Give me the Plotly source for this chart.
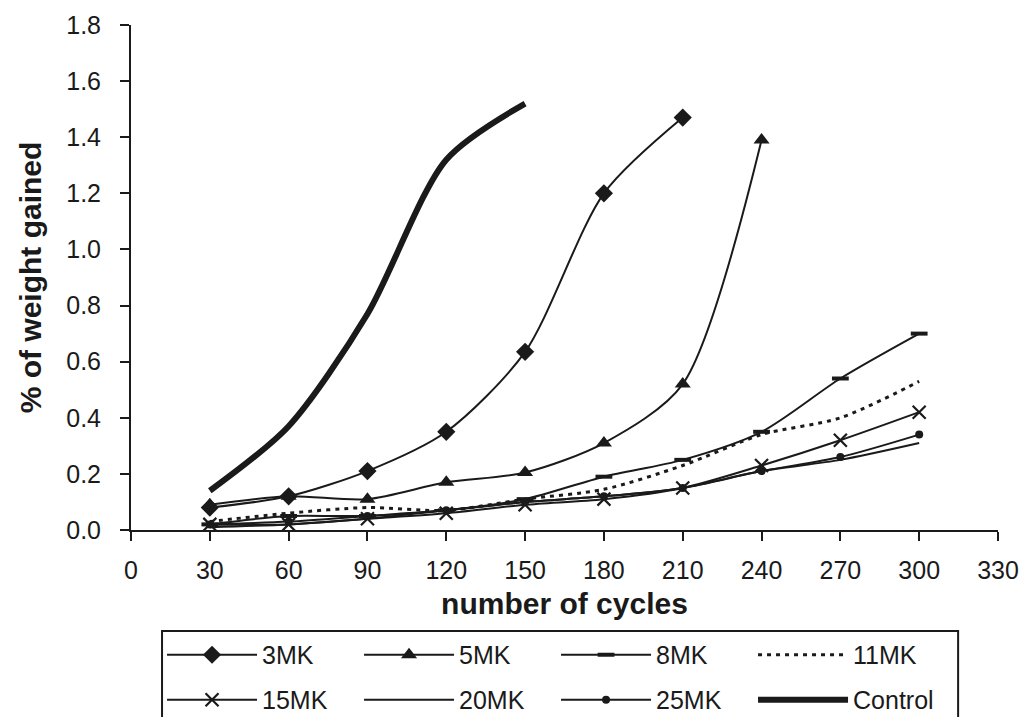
import plotly.graph_objects as go

cycles = [30, 60, 90, 120, 150, 180, 210, 240, 270, 300]

mk3 = [0.08, 0.12, 0.21, 0.35, 0.635, 1.20, 1.47]
mk5 = [0.09, 0.12, 0.11, 0.17, 0.205, 0.31, 0.52, 1.39]
mk8 = [0.02, 0.05, 0.05, 0.07, 0.11, 0.19, 0.25, 0.35, 0.54, 0.70]
mk11 = [0.03, 0.06, 0.08, 0.07, 0.11, 0.145, 0.23, 0.34, 0.40, 0.53]
mk15 = [0.02, 0.02, 0.04, 0.06, 0.09, 0.11, 0.15, 0.23, 0.32, 0.42]
mk20 = [0.01, 0.02, 0.04, 0.07, 0.10, 0.12, 0.15, 0.21, 0.25, 0.31]
mk25 = [0.02, 0.03, 0.05, 0.07, 0.10, 0.12, 0.15, 0.21, 0.26, 0.34]
control = [0.14, 0.37, 0.77, 1.32, 1.52]

x_ticks = list(range(0, 331, 30))
y_ticks = [0.0, 0.2, 0.4, 0.6, 0.8, 1.0, 1.2, 1.4, 1.6, 1.8]

FONT = "Liberation Sans, Arial, sans-serif"
BLK = "#1a1a1a"

fig = go.Figure()

def add(name, y, legend, marker=None, width=2, dash="solid", mode="lines+markers"):
    fig.add_trace(go.Scatter(
        x=cycles[:len(y)], y=y, name=name, mode=mode, legend=legend,
        line=dict(color=BLK, width=width, dash=dash, shape="spline", smoothing=0.8),
        marker=marker,
    ))

add("3MK", mk3, "legend", dict(symbol="diamond", size=14, color=BLK))
add("5MK", mk5, "legend", dict(symbol="triangle-up", size=14, color=BLK))
add("8MK", mk8, "legend", dict(symbol="line-ew", size=12, color=BLK, line=dict(width=4, color=BLK)))
add("11MK", mk11, "legend", width=3, dash="4px,5px", mode="lines")
add("15MK", mk15, "legend2", dict(symbol="x-thin", size=13, color=BLK, line=dict(width=2.2, color=BLK)))
add("20MK", mk20, "legend2", mode="lines")
add("25MK", mk25, "legend2", dict(symbol="circle", size=8, color=BLK))
add("Control", control, "legend2", width=6, mode="lines")

legend_common = dict(
    orientation="h", x=0.0358, xanchor="left", yanchor="middle",
    borderwidth=0, bgcolor="rgba(0,0,0,0)",
    entrywidth=92, entrywidthmode="pixels",
    font=dict(size=25, family=FONT, color=BLK), traceorder="normal",
    itemwidth=90,
)

fig.update_layout(
    width=1024, height=717,
    margin=dict(l=131, r=26, t=25, b=187, autoexpand=False),
    plot_bgcolor="white", paper_bgcolor="white",
    font=dict(family=FONT, size=25, color=BLK),
    xaxis=dict(
        range=[0, 330], tickvals=x_ticks, ticktext=[str(v) for v in x_ticks],
        showline=True, linecolor=BLK, linewidth=2, ticks="outside", ticklen=9,
        tickwidth=2, tickcolor=BLK, showgrid=False, zeroline=False,
        ticklabelstandoff=8, automargin=False,
        title=dict(text="<b>number of cycles</b>", font=dict(size=30), standoff=10),
    ),
    yaxis=dict(
        range=[0, 1.8], tickvals=y_ticks, ticktext=[f"{v:.1f}" for v in y_ticks],
        showline=True, linecolor=BLK, linewidth=2, ticks="outside", ticklen=9,
        tickwidth=2, tickcolor=BLK, showgrid=False, zeroline=False,
        ticklabelstandoff=14, automargin=False,
        title=dict(text="<b>% of weight gained</b>", font=dict(size=30), standoff=16),
    ),
    showlegend=True,
    legend=dict(y=-0.2475, **legend_common),
    legend2=dict(y=-0.3366, **legend_common),
    shapes=[dict(
        type="rect", xref="paper", yref="paper",
        x0=0.0358, x1=0.954, y0=-0.2, y1=-0.42,
        line=dict(color=BLK, width=2), fillcolor="rgba(0,0,0,0)", layer="below",
    )],
)

fig.write_html("out.html")
